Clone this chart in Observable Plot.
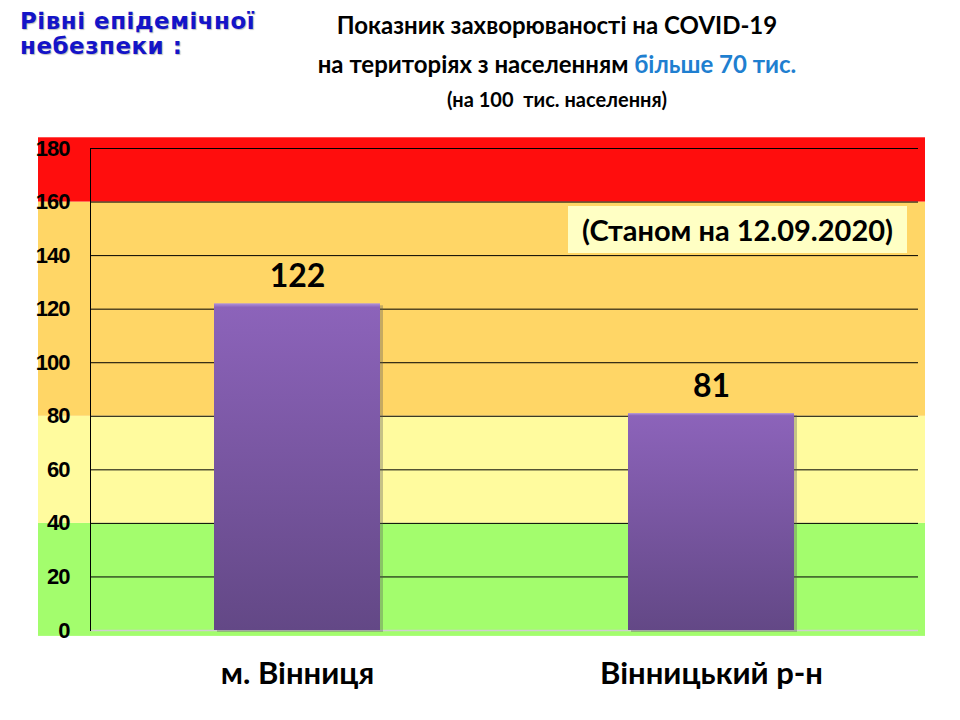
<!DOCTYPE html>
<html>
<head>
<meta charset="utf-8">
<script src="https://cdn.jsdelivr.net/npm/d3@7"></script>
<script src="https://cdn.jsdelivr.net/npm/@observablehq/plot@0.6"></script>
<style>
  body { margin: 0; background: #fff; }
  #wrap { position: relative; width: 960px; height: 720px; overflow: hidden; font-family: Lato, "Open Sans", sans-serif; }
  .abs { position: absolute; white-space: nowrap; }
  .lv { left: 20px; font-family: "DejaVu Sans", Verdana, sans-serif; font-weight: bold; font-size: 23px; line-height: 24px; letter-spacing: 0.5px; color: #1414c8; text-shadow: 1px 1px 1px rgba(0,0,0,0.25); }
  #lv1 { top: 9px; }
  #lv2 { top: 34px; }
  .t { left: 4px; width: 1106px; text-align: center; font-weight: bold; color: #000; }
  #t1 { top: 10px; font-size: 24px; }
  #t2 { top: 49px; font-size: 24px; }
  #t3 { top: 87px; font-size: 20px; }
  .blue { color: #1f7fd0; }
  #note { left: 568px; top: 206px; width: 339px; height: 47px; background: #ffffc4; font-weight: bold; font-size: 29px; line-height: 47px; text-align: center; }
  #chart { position: absolute; left: 0; top: 0; }
  g[aria-label="y-axis tick label"] text { letter-spacing: -1px; }
</style>
</head>
<body>
<div id="wrap">
  <div id="chart"></div>
  <div id="lv1" class="abs lv">Рівні епідемічної</div>
  <div id="lv2" class="abs lv">небезпеки :</div>
  <div id="t1" class="abs t">Показник захворюваності на COVID-19</div>
  <div id="t2" class="abs t">на територіях з населенням <span class="blue">більше 70 тис.</span></div>
  <div id="t3" class="abs t">(на 100&nbsp; тис. населення)</div>
  <div id="note" class="abs">(Станом на 12.09.2020)</div>
</div>
<script>
const categories = ["м. Вінниця", "Вінницький р-н"];
const values = [122, 81];
const yTicks = [0, 20, 40, 60, 80, 100, 120, 140, 160, 180];
const zoneLower = [-2.2, 40, 80, 160];
const zoneUpper = [40, 80, 160, 184];
const zoneColors = ["#a3fd6d", "#fffb9e", "#ffd666", "#ff0d0d"];

const bars = categories.map((c, i) => ({category: c, value: values[i]}));
const zones = zoneLower.map((lo, i) => ({lo, hi: zoneUpper[i], color: zoneColors[i]}));

const chart = Plot.plot({
  width: 960,
  height: 720,
  marginTop: 148,
  marginBottom: 90,
  marginLeft: 90,
  marginRight: 42,
  style: {background: "transparent", overflow: "visible"},
  x: {domain: categories, paddingInner: 0.6, paddingOuter: 0.3, label: null},
  y: {domain: [0, 180], label: null},
  marks: [
    Plot.rect(zones, {y1: "lo", y2: "hi", fill: d => d.color, insetLeft: -52, insetRight: -7}),
    Plot.ruleY(yTicks.filter(t => t > 0), {stroke: "#000", strokeWidth: 1}),
    Plot.ruleY([0], {stroke: "#cfcfcf", strokeWidth: 1.5}),
    Plot.frame({anchor: "left", stroke: "#000", strokeWidth: 1}),
    Plot.barY(bars, {x: "category", y: "value", fill: "#5a5a5a", fillOpacity: 0.35, dx: 3, dy: 2}),
    Plot.barY(bars, {x: "category", y: "value", fill: "url(#barGrad)"}),
    Plot.text(bars, {x: "category", y: "value", text: d => String(d.value), dy: -27, fontSize: 32, fontWeight: "bold", fill: "#000", fontFamily: "Lato, 'Open Sans', sans-serif"}),
    Plot.axisY({ticks: yTicks, tickSize: 0, tickPadding: 21, fontSize: 22, fontWeight: "bold", fill: "#000",
      fontFamily: "'Liberation Sans Narrow', 'Arial Narrow', 'Liberation Sans', sans-serif", tickFormat: d => String(d)}),
    Plot.axisX({tickSize: 0, tickPadding: 31, fontSize: 31, fontWeight: "bold", fill: "#000",
      fontFamily: "Lato, 'Open Sans', sans-serif"})
  ]
});

const ns = "http://www.w3.org/2000/svg";
const defs = document.createElementNS(ns, "defs");
defs.innerHTML = `<linearGradient id="barGrad" x1="0" y1="0" x2="0" y2="1">
  <stop offset="0" stop-color="#b294dc"/>
  <stop offset="0.012" stop-color="#8c63ba"/>
  <stop offset="1" stop-color="#634886"/>
</linearGradient>`;
chart.insertBefore(defs, chart.firstChild);
document.getElementById("chart").appendChild(chart);
</script>
</body>
</html>
